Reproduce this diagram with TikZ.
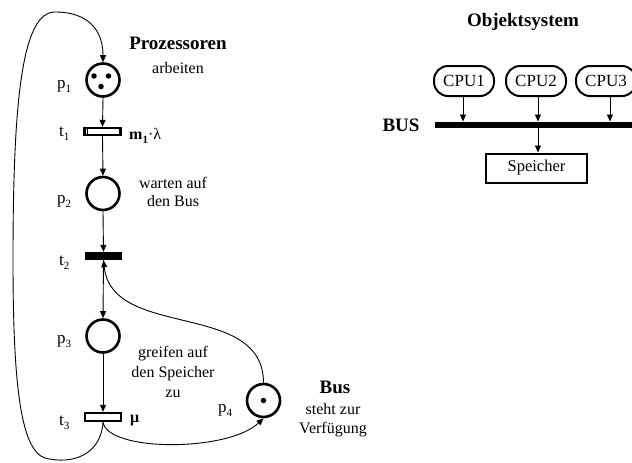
\documentclass[tikz,border=0pt]{standalone}
\usepackage{fontspec}
\setmainfont{Liberation Serif}
\usetikzlibrary{arrows.meta}
\newcommand{\lsub}[1]{{\fontsize{11}{12}\selectfont\raisebox{-4.5pt}{#1}}}
\begin{document}
\begin{tikzpicture}[x=1pt,y=-1pt,
  place/.style={circle,draw,line width=2.6pt,minimum size=33pt,inner sep=0pt},
  trans/.style={rectangle,draw,line width=2.4pt,fill=white,minimum width=36pt,minimum height=7pt,inner sep=0pt},
  ttrans/.style={rectangle,fill=black,minimum width=37pt,minimum height=8pt,inner sep=0pt},
  arc/.style={-{Triangle[length=7pt,width=6pt]},line width=0.9pt},
  tok/.style={circle,fill=black,inner sep=0pt,minimum size=5.5pt},
  lbl/.style={font=\fontsize{17}{18}\selectfont,anchor=base west,inner sep=0pt},
  txt/.style={font=\fontsize{16}{18}\selectfont,anchor=base,inner sep=0pt},
  head/.style={font=\fontsize{19}{21}\selectfont\bfseries,anchor=base,inner sep=0pt},
  cpu/.style={rectangle,rounded corners=14pt,draw,line width=2pt,minimum width=60pt,minimum height=30pt,inner sep=0pt,font=\fontsize{17}{18}\selectfont},
  memb/.style={rectangle,draw,line width=2pt,minimum width=101pt,minimum height=29pt,inner sep=0pt,font=\fontsize{16.5}{18}\selectfont}
]
\useasboundingbox (0,0) rectangle (632,463);
% places
\node[place] (p1) at (103,80) {};
\node[place] (p2) at (103,193.5) {};
\node[place] (p3) at (103,336) {};
\node[place] (p4) at (263.5,400.5) {};
\node[tok] (k1) at (94,76) {};
\node[tok] (k2) at (108.5,76) {};
\node[tok] (k3) at (101,86.5) {};
\node[tok] (k4) at (263.5,400.5) {};
% transitions
\node[trans] (t1) at (102.5,131.5) {};
\draw[line width=0.7pt] ([xshift=4pt]t1.north west) -- ([xshift=4pt]t1.south west);
\node[ttrans] (t2) at (103.5,256) {};
\node[trans,minimum height=8pt] (t3) at (103,417) {};
% arcs
\draw[arc] (p1.south) -- (t1.north);
\draw[arc] (t1.south) -- (p2.north);
\draw[arc] (p2.south) -- (t2.north);
\draw[arc] (t2.south) -- (p3.north);
\draw[arc] (p3.south) -- (t3.north);
\draw[arc] (p4.north) .. controls (263.5,300) and (112,340) .. (t2.south);
\draw[arc] (t3.south) .. controls (108,452) and (228,452) .. (p4.south);
\draw[arc] (t3.south) .. controls (101,455) and (72,465) .. (45,458)
  .. controls (20,450) and (13,380) .. (13,260)
  .. controls (13,100) and (22,12) .. (55,12)
  .. controls (88,12) and (103,30) .. (p1.north);
% labels
\node[lbl] (lp1) at (57,88) {p\lsub{1}};
\node[lbl] (lt1) at (59,136) {t\lsub{1}};
\node[lbl] (lp2) at (57,203) {p\lsub{2}};
\node[lbl] (lt2) at (59,265) {t\lsub{2}};
\node[lbl] (lp3) at (57,343) {p\lsub{3}};
\node[lbl] (lt3) at (59,425) {t\lsub{3}};
\node[lbl] (lp4) at (218,412) {p\lsub{4}};
\node[lbl,font=\fontsize{16}{18}\selectfont] (rate1) at (129,139) {\textbf{m}{\bfseries\lsub{1}}·λ};
\node[lbl,font=\fontsize{16}{18}\selectfont] (rate3) at (130,422) {\textbf{μ}};
% texts
\node[head] (h1) at (178,49) {Prozessoren};
\node[txt] (h1b) at (178,73) {arbeiten};
\node[txt] (w1) at (173,188) {warten auf};
\node[txt] (w2) at (173,206) {den Bus};
\node[txt] (g1) at (173,357) {greifen auf};
\node[txt] (g2) at (173,377) {den Speicher};
\node[txt] (g3) at (173,397) {zu};
\node[head] (hb) at (335,393) {Bus};
\node[txt] (hb2) at (333,414) {steht zur};
\node[txt] (hb3) at (333,433) {Verfügung};
% object system
\node[head] (os) at (523,26) {Objektsystem};
\node[cpu] (c1) at (464,81) {CPU1};
\node[cpu] (c2) at (536,81) {CPU2};
\node[cpu] (c3) at (606,81) {CPU3};
\coordinate (busL) at (435,124.5);
\coordinate (busR) at (633,124.5);
\draw[line width=6pt] (busL) -- (busR);
\node[head,anchor=base] (busl) at (401,131) {BUS};
\node[memb] (mem) at (536.5,168) {Speicher};
\coordinate (b1) at (463,121.5);
\coordinate (b2) at (538,121.5);
\coordinate (b3) at (610,121.5);
\coordinate (b4) at (538,127);
\draw[arc] (c1.south -| b1) -- (b1);
\draw[arc] (c2.south -| b2) -- (b2);
\draw[arc] (c3.south -| b3) -- (b3);
\draw[arc] (b4) -- (mem.north -| b4);
\end{tikzpicture}
\end{document}
